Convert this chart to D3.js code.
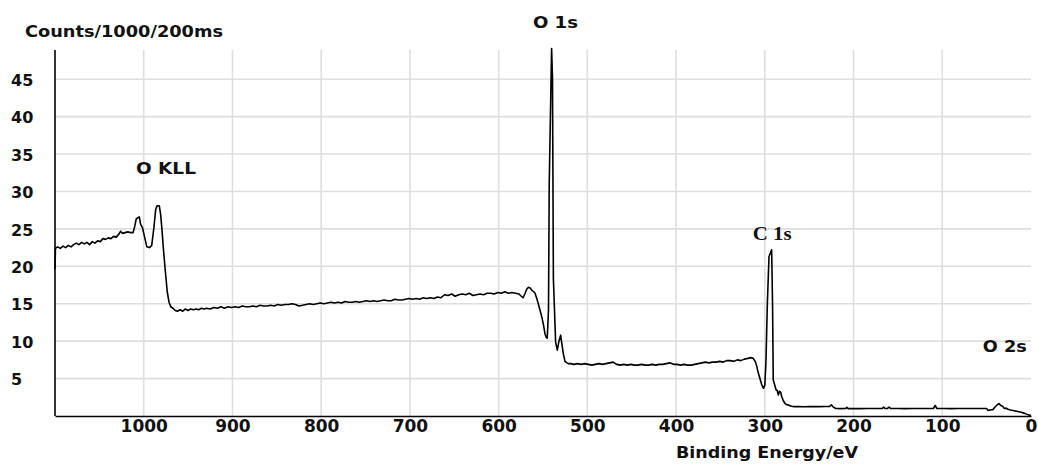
<!DOCTYPE html>
<html>
<head>
<meta charset="utf-8">
<script src="https://cdn.jsdelivr.net/npm/d3@7"></script>
<style>
  html, body { margin: 0; padding: 0; background: #fff; }
  svg { display: block; }
  text { font-family: "DejaVu Sans", "Liberation Sans", sans-serif; font-weight: bold; fill: #111; }
</style>
</head>
<body>
<svg id="chart" width="1038" height="466"></svg>
<script>
// XPS survey spectrum: binding energy (eV) and counts (x1000 per 200 ms)
const energy = [
  1100, 1099.5, 1097, 1094, 1091, 1088, 1085, 1082, 1079, 1076, 1073, 1070, 1067, 1064, 1061, 1058, 1055, 1052, 1049, 1046,
  1043, 1040, 1037, 1034, 1031, 1028, 1026, 1024, 1021, 1018, 1015, 1012, 1010, 1008.5, 1006.5, 1005, 1003.5, 1001.5, 999, 996.5,
  993.5, 991, 988.5, 986.5, 985, 982.5, 981, 979.5, 978, 976, 973.5, 971.5, 969.5, 967, 964.5, 962, 959, 956, 953, 950,
  947, 944, 941, 938, 935, 932, 929, 925, 921, 917, 913, 909, 905, 901, 897, 893, 889, 885, 881, 877,
  873, 869, 865, 861, 857, 853, 849, 845, 841, 837, 833, 829, 825, 821, 817, 813, 809, 805, 801, 797,
  793, 789, 785, 781, 777, 773, 769, 765, 761, 757, 753, 749, 745, 741, 737, 733, 729, 725, 721, 717,
  713, 709, 705, 701, 697, 693, 689, 685, 681, 677, 673, 669, 665, 661, 657, 653, 649, 645, 641, 637,
  633, 629, 625, 621, 617, 613, 609, 605, 601, 597, 593, 589, 585, 581, 577, 574.5, 572.5, 570.5, 568.5, 566.5,
  564.5, 562.5, 560.5, 559, 557, 555.3, 553.5, 551.5, 549.5, 547.8, 546.3, 545.2, 543.8, 543.0, 540.3, 539.3, 538.3, 535.8, 533.9, 532.0,
  530.1, 529.2, 528.3, 526.9, 525.2, 523, 521.5, 519, 515, 511, 507, 503, 499, 495, 491, 487, 483, 479, 475, 471,
  467, 463, 459, 455, 451, 447, 443, 439, 435, 431, 427, 423, 419, 415, 411, 407, 403, 399, 395, 391,
  387, 383, 379, 375, 371, 367, 363, 359, 355, 351, 347, 343, 339, 335, 331, 327, 323, 319, 316, 313,
  310.5, 309, 307.5, 305.5, 303.5, 301.5, 300, 298.7, 297.2, 295.3, 292.3, 291.3, 290.5, 289, 287.4, 286, 284.8, 283.5, 282.2, 281,
  279, 277.3, 275, 273, 270, 267, 262, 256, 250, 244, 238, 232, 227, 225, 223.5, 220, 214, 209, 207.5, 206,
  200, 192, 184, 176, 168, 166, 164.5, 162, 160, 158, 150, 142, 134, 126, 118, 110, 108, 106, 98, 90,
  82, 74, 66, 58, 50, 48.5, 46, 43, 40.5, 38, 36, 34, 32, 30, 28, 26, 23, 19, 15, 11,
  7, 3, 0
];
const counts = [
  19.6, 22.4, 22.6, 22.4, 22.7, 22.5, 22.8, 22.6, 22.9, 23.1, 22.9, 23.2, 23.0, 23.2, 22.9, 23.3, 23.1, 23.4, 23.3, 23.7,
  23.6, 23.8, 23.7, 24.0, 23.9, 24.3, 24.7, 24.4, 24.5, 24.6, 24.5, 24.5, 25.4, 26.3, 26.5, 26.6, 25.6, 25.2, 23.9, 22.6,
  22.5, 22.8, 25.2, 27.6, 28.1, 28.1, 27.0, 25.0, 22.6, 19.8, 16.6, 15.2, 14.6, 14.4, 14.1, 14.0, 14.2, 14.0, 14.3, 14.1,
  14.3, 14.2, 14.3, 14.2, 14.4, 14.3, 14.4, 14.3, 14.5, 14.4, 14.6, 14.4, 14.6, 14.5, 14.6, 14.5, 14.7, 14.6, 14.6, 14.7,
  14.6, 14.8, 14.7, 14.7, 14.8, 14.7, 14.9, 14.8, 14.9, 14.9, 15.0, 14.9, 14.7, 14.8, 14.9, 15.0, 14.9, 15.0, 15.1, 15.0,
  15.1, 15.2, 15.1, 15.2, 15.1, 15.3, 15.2, 15.2, 15.3, 15.2, 15.3, 15.4, 15.3, 15.4, 15.3, 15.4, 15.5, 15.4, 15.4, 15.6,
  15.5, 15.5, 15.6, 15.7, 15.6, 15.7, 15.6, 15.8, 15.7, 15.8, 15.7, 15.9, 15.8, 16.2, 16.1, 16.3, 16.0, 16.2, 16.3, 16.2,
  16.4, 16.1, 16.2, 16.3, 16.2, 16.4, 16.4, 16.3, 16.5, 16.4, 16.6, 16.4, 16.5, 16.4, 16.3, 16.0, 15.8, 16.3, 16.9, 17.2,
  17.1, 16.8, 16.6, 16.4, 15.7, 15.0, 14.2, 13.3, 12.2, 11.0, 10.5, 10.4, 14.2, 30.9, 49.1, 45.1, 18.4, 9.9, 8.8, 10.0,
  10.8, 10.0, 9.3, 8.2, 7.3, 7.1, 7.0, 7.0, 6.9, 7.0, 6.9, 7.0, 6.9, 6.8, 6.9, 7.0, 6.9, 7.0, 7.1, 7.2,
  6.9, 6.8, 6.9, 6.8, 6.9, 6.8, 6.8, 6.9, 6.8, 6.8, 6.9, 6.8, 6.9, 6.9, 7.0, 7.1, 6.9, 6.9, 6.8, 6.9,
  6.8, 6.8, 6.9, 7.0, 7.1, 7.2, 7.1, 7.2, 7.2, 7.3, 7.2, 7.4, 7.4, 7.3, 7.5, 7.4, 7.6, 7.7, 7.8, 7.7,
  7.2, 6.6, 5.8, 5.0, 4.2, 3.7, 4.1, 7.3, 14.8, 21.3, 22.2, 15.0, 4.8, 4.2, 3.5, 3.4, 2.8, 3.3, 3.2, 2.6,
  2.0, 1.7, 1.5, 1.45, 1.3, 1.25, 1.25, 1.24, 1.26, 1.25, 1.25, 1.26, 1.27, 1.5, 1.25, 1.0, 0.98, 1.0, 1.15, 0.98,
  1.0, 0.99, 1.0, 1.0, 1.0, 1.2, 1.0, 1.0, 1.2, 1.0, 1.0, 0.99, 1.0, 1.0, 1.0, 1.0, 1.4, 1.0, 1.0, 0.99,
  1.0, 1.0, 1.0, 1.0, 1.0, 0.75, 0.8, 0.85, 1.2, 1.5, 1.65, 1.4, 1.3, 1.0, 1.05, 0.9, 0.8, 0.7, 0.6, 0.5,
  0.35, 0.15, 0.05
];

const xTicks = [1000, 900, 800, 700, 600, 500, 400, 300, 200, 100, 0];
const yTicks = [5, 10, 15, 20, 25, 30, 35, 40, 45];

// Peak annotations, anchored at (binding energy, counts)
const peakNames  = ["O KLL", "O 1s", "C 1s", "O 2s"];
const peakEnergy = [975, 536, 291.7, 29.6];
const peakCounts = [32.35, 51.8, 23.45, 8.6];

const svg = d3.select("#chart");
const plotLeft = 55, plotRight = 1031, plotTop = 50, plotBottom = 416;

const x = d3.scaleLinear().domain([1100, 0]).range([plotLeft, plotRight]);
const y = d3.scaleLinear().domain([0, 48.9]).range([plotBottom, plotTop]);

// grid
const grid = svg.append("g").attr("stroke", "#dedede").attr("stroke-width", 1.6);
grid.selectAll("line.v").data(xTicks.filter(d => d > 0)).join("line")
  .attr("class", "v")
  .attr("x1", d => x(d)).attr("x2", d => x(d))
  .attr("y1", plotTop).attr("y2", plotBottom);
grid.selectAll("line.h").data(yTicks).join("line")
  .attr("class", "h")
  .attr("x1", plotLeft).attr("x2", plotRight)
  .attr("y1", d => y(d)).attr("y2", d => y(d));

// axes
const xAxis = svg.append("g").attr("transform", `translate(0,${plotBottom})`)
  .call(d3.axisBottom(x).tickValues(xTicks).tickSize(0).tickPadding(4).tickFormat(d3.format("d")));
xAxis.select(".domain").attr("stroke", "#000").attr("stroke-width", 1.6);
xAxis.selectAll("text").style("font-size", "17px").attr("fill", "#111");

const yAxis = svg.append("g").attr("transform", `translate(${plotLeft},0)`)
  .call(d3.axisLeft(y).tickValues(yTicks).tickSize(0).tickFormat(d3.format("d")));
yAxis.select(".domain").attr("d", `M0,${plotTop}V${plotBottom}`).attr("stroke", "#000").attr("stroke-width", 1.6);
yAxis.selectAll("text")
  .style("font-size", "16px")
  .attr("fill", "#111")
  .attr("text-anchor", "start")
  .attr("x", 11 - plotLeft)
  .attr("dy", "0.39em");

// spectrum
const pts = energy.map((e, i) => [e, counts[i]]);
svg.append("path")
  .datum(pts)
  .attr("fill", "none")
  .attr("stroke", "#000")
  .attr("stroke-width", 1.6)
  .attr("stroke-linejoin", "round")
  .attr("d", d3.line().x(d => x(d[0])).y(d => y(d[1])));

// axis titles
svg.append("text")
  .attr("x", 25).attr("y", 37)
  .style("font-size", "15.5px")
  .attr("textLength", 198).attr("lengthAdjust", "spacingAndGlyphs")
  .text("Counts/1000/200ms");

svg.append("text")
  .attr("x", 676).attr("y", 458)
  .style("font-size", "16px")
  .attr("textLength", 182).attr("lengthAdjust", "spacingAndGlyphs")
  .text("Binding Energy/eV");

// peak labels
const labelWidths = [60, 45, 39, 44];
svg.selectAll("text.peak").data(peakNames).join("text")
  .attr("class", "peak")
  .attr("x", (d, i) => x(peakEnergy[i]))
  .attr("y", (d, i) => y(peakCounts[i]))
  .attr("text-anchor", "middle")
  .attr("textLength", (d, i) => labelWidths[i])
  .attr("lengthAdjust", "spacingAndGlyphs")
  .style("font-family", d => d === "C 1s" ? "'Liberation Serif', 'Times New Roman', serif" : null)
  .style("font-size", d => d === "C 1s" ? "19px" : "16px")
  .text(d => d);
</script>
</body>
</html>
